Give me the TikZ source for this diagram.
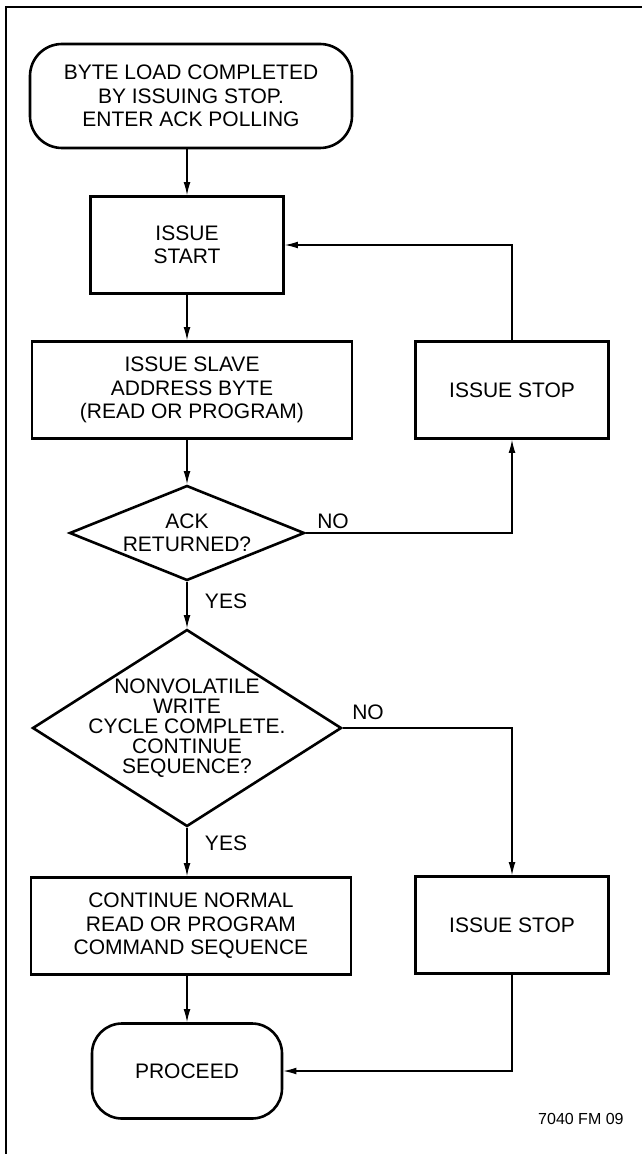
\documentclass[tikz,border=0pt]{standalone}
\usepackage{fontspec}
\setmainfont{Liberation Sans}
\usetikzlibrary{arrows.meta,shapes.geometric,positioning,calc}

\newcommand{\flowfont}{\fontsize{10.5pt}{11.75pt}\selectfont}
\newcommand{\tightfont}{\fontsize{10.5pt}{10pt}\selectfont}

\tikzset{
  box/.style={draw, line width=1.3pt, minimum width=96.5pt, minimum height=48.5pt,
    inner sep=0pt, align=center, font=\flowfont},
  term/.style={box, rounded corners=16pt},
  decision/.style={draw, diamond, line width=1.3pt, inner sep=0pt},
  flow/.style={line width=0.6pt, -{Latex[length=6.5pt,width=3.4pt]}},
  tag/.style={font=\flowfont, inner sep=0pt},
}

\begin{document}
\begin{tikzpicture}[x=0.5pt, y=-0.5pt]
    \useasboundingbox (0,0) rectangle (642,1154);

    % Frame
    \draw[line width=0.9pt] (6,1154) -- (6,7) -- (642,7);

    % Main column
    \node[term, minimum width=161pt, minimum height=52pt] (load) at (191,96)
        {BYTE LOAD COMPLETED\\BY ISSUING STOP.\\ENTER ACK POLLING};
    \node[box] (start) at (187,245) {ISSUE\\START};
    \node[box, minimum width=160pt] (slave) at (192,390)
        {ISSUE SLAVE\\ADDRESS BYTE\\(READ OR PROGRAM)};
    \node[decision, minimum width=117.5pt, minimum height=47.5pt,
        label={[tag, align=center]center:ACK\\RETURNED?}] (ack) at (187,533) {};
    \node[decision, minimum width=154.5pt, minimum height=98.5pt,
        label={[tag, font=\tightfont, align=center]center:NONVOLATILE\\WRITE\\CYCLE COMPLETE.\\CONTINUE\\SEQUENCE?}]
        (cycle) at (187,728) {};
    \node[box, minimum width=160pt] (normal) at (191,926)
        {CONTINUE NORMAL\\READ OR PROGRAM\\COMMAND SEQUENCE};
    \node[term, minimum width=95pt, minimum height=47.5pt, rounded corners=15pt]
        (proceed) at (187,1071) {PROCEED};

    % Side column
    \node[box] (stopa) at (512,390) {ISSUE STOP};
    \node[box] (stopb) at (512,925) {ISSUE STOP};

    % Connectors down the main column
    \draw[flow] (load.south -| start) -- (start);
    \draw[flow] (start) -- (start |- slave.north);
    \draw[flow] (slave.south -| ack) -- (ack);
    \draw[flow] (ack) -- (cycle);
    \draw[flow] (cycle) -- (cycle |- normal.north);
    \draw[flow] (normal.south -| proceed) -- (proceed);

    % Side branches
    \draw[flow] (stopa) |- (start);
    \draw[flow] (ack) -| (stopa);
    \draw[flow] (cycle) -| (stopb);
    \draw[flow] (stopb) |- (proceed);

    % Branch labels
    \node[tag] (noack) at (333,521) {NO};
    \node[tag] (yesack) at (226,601) {YES};
    \node[tag] (nocycle) at (368,712) {NO};
    \node[tag] (yescycle) at (226,843) {YES};

    % Figure number
    \node[font=\fontsize{8pt}{9pt}\selectfont, anchor=east, inner sep=0pt] (figid)
        at (624,1119) {7040 FM 09};
\end{tikzpicture}
\end{document}
